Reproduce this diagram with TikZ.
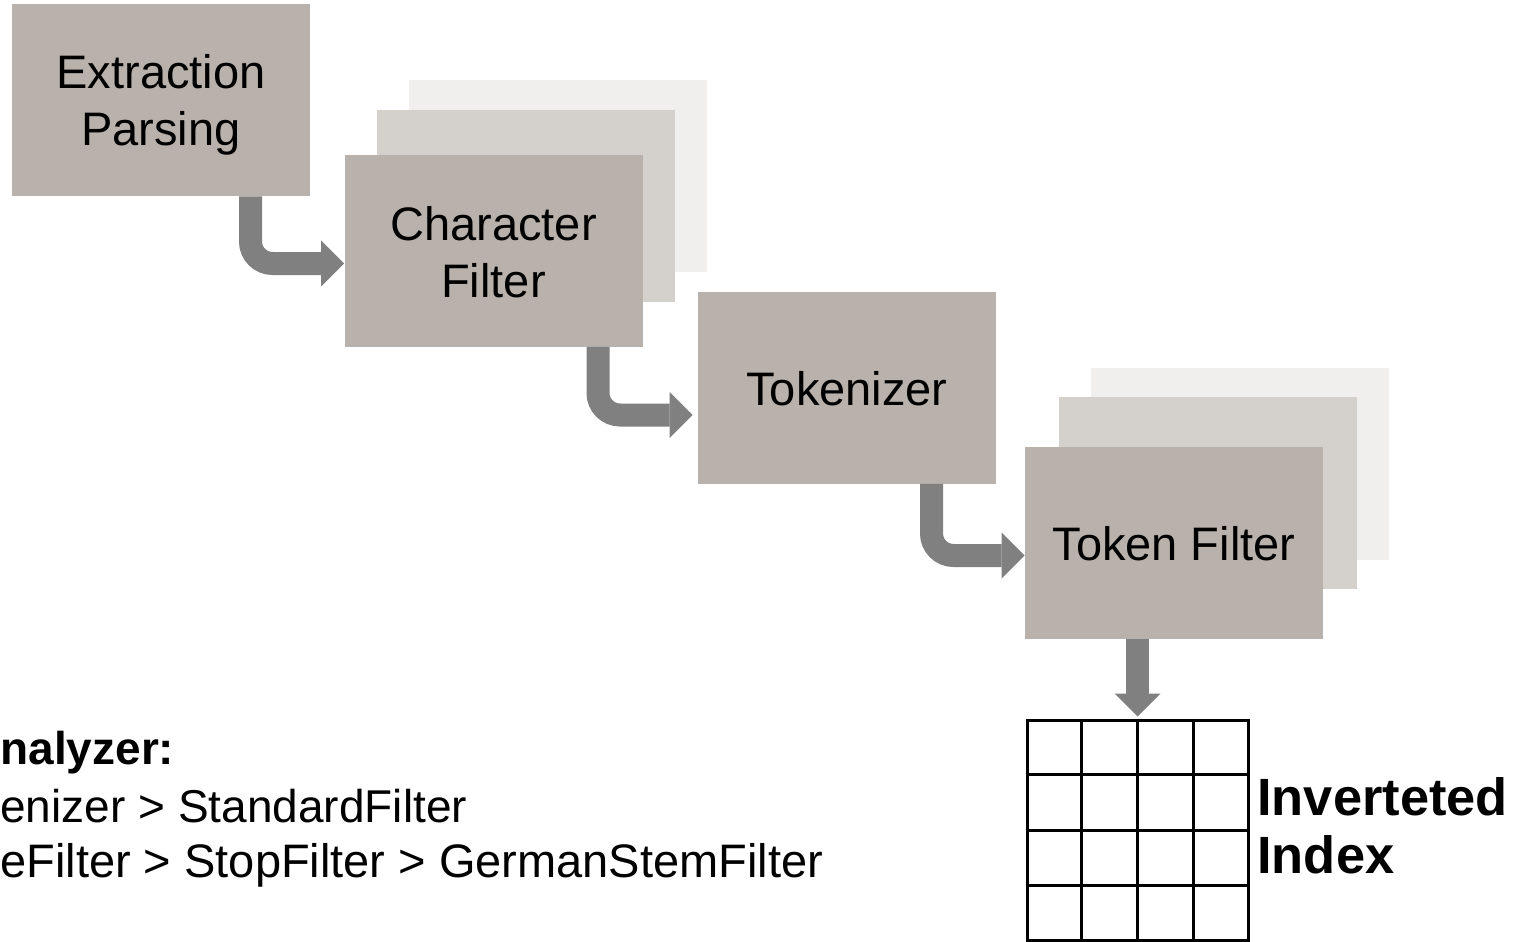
\documentclass[tikz,border=0pt]{standalone}
\usepackage{fontspec}
\setmainfont{Liberation Sans}
\usetikzlibrary{arrows.meta,calc}
\definecolor{boxfront}{RGB}{185,178,172}
\definecolor{boxmid}{RGB}{212,209,204}
\definecolor{boxback}{RGB}{240,239,237}
\definecolor{flowgrey}{RGB}{128,128,128}
% uniform line box so that every stage label sits at the same height
\newcommand\linestrut{\rule[-4pt]{0pt}{26pt}}
\begin{document}
\begin{tikzpicture}[x=0.5pt,y=-0.5pt,
  stage/.style={fill=boxfront, minimum width=149pt, minimum height=96pt,
    inner sep=0pt, align=center, font=\fontsize{23.5pt}{28.5pt}\selectfont},
  layer/.style={stage, fill=#1},
  flow/.style={draw=flowgrey, line width=11.5pt, rounded corners=11pt,
    -{Triangle[length=11.5pt,width=23pt,line width=0pt,fill=flowgrey]}},
  chain/.style={font=\fontsize{23.5pt}{28pt}\selectfont, inner sep=0pt, anchor=base west},
  label/.style={font=\fontsize{26.2pt}{29pt}\selectfont\bfseries, inner sep=0pt,
    align=left, anchor=north west}
]
\useasboundingbox (0,0) rectangle (1522,942);
\fill[white] (0,0) rectangle (1522,942);
\clip (0,0) rectangle (1522,942);

% pipeline stages (stacked copies first, so the front box lies on top)
\node[stage] (ext) at (161,100) {\linestrut Extraction\\\linestrut Parsing};

\node[layer=boxback] (cfback) at (558,175.5) {};
\node[layer=boxmid]  (cfmid)  at (526,205.5) {};
\node[stage] (cf) at (493.5,250.5) {\linestrut Character\\\linestrut Filter};

\node[stage] (tok) at (847,387.5) {\linestrut Tokenizer};

\node[layer=boxback] (tfback) at (1240,463.5) {};
\node[layer=boxmid]  (tfmid)  at (1208,493) {};
\node[stage] (tf) at (1174,542.5) {\linestrut Token Filter};

% index grid
\node[draw, line width=1.5pt, minimum width=110.5pt, minimum height=110pt,
  inner sep=0pt] (grid) at (1137.5,830) {};
\foreach \i in {1,2,3} {
  \draw[line width=1.5pt] ($(grid.north west)!\i/4!(grid.north east)$)
    -- ($(grid.south west)!\i/4!(grid.south east)$);
  \draw[line width=1.5pt] ($(grid.north west)!\i/4!(grid.south west)$)
    -- ($(grid.north east)!\i/4!(grid.south east)$);
}
\node[label] (idx) at (1257,777) {Inverteted\\Index};

% elbow connectors between the stages
\draw[flow] ($(ext.south)+(89.5,0)$) |- ($(cf.west)+(0,13)$);
\draw[flow, shorten >=2.5pt] ($(cf.south)+(104.5,0)$) |- ($(tok.west)+(0,27.5)$);
\draw[flow] ($(tok.south)+(84.5,0)$) |- ($(tf.west)+(0,13)$);
\draw[flow, shorten >=1pt] ($(tf.south)+(-36.5,0)$) -- (grid.north);

% analyzer chain
\node[chain, font=\fontsize{23pt}{28pt}\selectfont\bfseries] (an) at (0,764) {nalyzer:};
\node[chain, font=\fontsize{23pt}{28pt}\selectfont] (ch1) at (0,822) {enizer > StandardFilter};
\node[chain] (ch2) at (0,877) {eFilter > StopFilter > GermanStemFilter};
\end{tikzpicture}
\end{document}
